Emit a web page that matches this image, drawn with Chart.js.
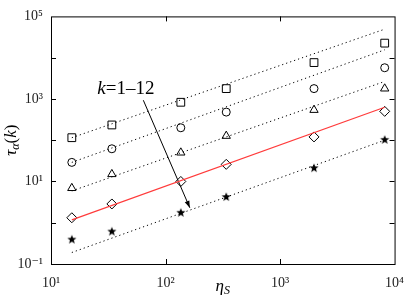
<!DOCTYPE html>
<html>
<head>
<meta charset="utf-8">
<script src="https://cdn.jsdelivr.net/npm/chart.js@4.4.0/dist/chart.umd.min.js"></script>
<style>
  html, body { margin: 0; padding: 0; background: #fff; }
  canvas { display: block; }
</style>
</head>
<body>
<canvas id="graph" width="415" height="303"></canvas>
<script>
// eta_S values (same for every k)
const etaS = [15.2, 34, 136, 339, 1980, 8200];
// tau_alpha(k) for each marker family
const tauSquare = [115, 234, 830, 1780, 7600, 22500];
const tauCircle = [29, 62, 200, 480, 1780, 5700];
const tauTriangle = [6.9, 15, 50, 127, 540, 1780];
const tauDiamond = [1.32, 2.85, 10, 26, 120, 500];
const tauStar = [0.39, 0.61, 1.74, 4.2, 21, 102];
// power law guides, end points
const fitEta = [15.2, 8200];
const fitSquare = [115, 49000];
const fitCircle = [29, 15500];
const fitTriangle = [5.9, 2650];
const fitDiamond = [1.17, 630];
const fitStar = [0.19, 100];
// arrow for k = 1..12
const arrowEta = [64, 163];
const arrowTau = [930, 2.3];
const kLabelAt = [45, 1700];

const xTicks = [10, 100, 1000, 10000];
const yTicks = [0.1, 1, 10, 100, 1000, 10000, 100000];

const serif = "'Liberation Serif', 'DejaVu Serif', serif";
const sup = {'0':'⁰','1':'¹','2':'²','3':'³','4':'⁴','5':'⁵','-':'⁻'};
function powLabel(v) {
  const e = Math.round(Math.log10(v));
  return '10' + String(e).split('').map(c => sup[c]).join('');
}

function makeStar(r) {
  const c = document.createElement('canvas');
  const s = Math.ceil(2 * r + 2);
  c.width = c.height = s;
  const g = c.getContext('2d');
  g.beginPath();
  for (let i = 0; i < 10; i++) {
    const rr = i % 2 ? r * 0.42 : r;
    const a = -Math.PI / 2 + i * Math.PI / 5;
    g.lineTo(s / 2 + rr * Math.cos(a), s / 2 + rr * Math.sin(a));
  }
  g.closePath();
  g.fillStyle = '#000';
  g.fill();
  return c;
}

const pts = (xs, ys) => xs.map((x, i) => ({x: x, y: ys[i]}));

const dotted = (ys) => ({
  type: 'line', data: pts(fitEta, ys), borderColor: '#000', borderWidth: 1,
  borderDash: [1.2, 3], pointRadius: 0, fill: false
});
const markers = (ys, style, r) => ({
  type: 'scatter', data: pts(etaS, ys), pointStyle: style, pointRadius: r,
  borderColor: '#000', backgroundColor: 'rgba(0,0,0,0)', pointBorderWidth: 1
});

const extras = {
  id: 'extras',
  afterDraw(chart) {
    const ctx = chart.ctx;
    const a = chart.chartArea;
    const xs = chart.scales.x, ys = chart.scales.y;
    ctx.save();
    ctx.strokeStyle = '#000';
    ctx.lineWidth = 1;
    ctx.strokeRect(a.left + 0.5, a.top + 0.5, a.right - a.left, a.bottom - a.top);
    ctx.beginPath();
    xTicks.slice(1, -1).forEach(v => {
      const px = Math.round(xs.getPixelForValue(v)) + 0.5;
      ctx.moveTo(px, a.bottom); ctx.lineTo(px, a.bottom - 5);
      ctx.moveTo(px, a.top); ctx.lineTo(px, a.top + 5);
    });
    yTicks.slice(1, -1).forEach(v => {
      const py = Math.round(ys.getPixelForValue(v)) + 0.5;
      ctx.moveTo(a.left, py); ctx.lineTo(a.left + 5, py);
      ctx.moveTo(a.right, py); ctx.lineTo(a.right - 5, py);
    });
    ctx.stroke();

    // arrow head
    const x0 = xs.getPixelForValue(arrowEta[0]), y0 = ys.getPixelForValue(arrowTau[0]);
    const x1 = xs.getPixelForValue(arrowEta[1]), y1 = ys.getPixelForValue(arrowTau[1]);
    const ang = Math.atan2(y1 - y0, x1 - x0);
    ctx.fillStyle = '#000';
    ctx.beginPath();
    ctx.moveTo(x1, y1);
    ctx.lineTo(x1 - 7 * Math.cos(ang) + 2.5 * Math.sin(ang), y1 - 7 * Math.sin(ang) - 2.5 * Math.cos(ang));
    ctx.lineTo(x1 - 7 * Math.cos(ang) - 2.5 * Math.sin(ang), y1 - 7 * Math.sin(ang) + 2.5 * Math.cos(ang));
    ctx.closePath();
    ctx.fill();

    // k label
    const kx = xs.getPixelForValue(kLabelAt[0]), ky = ys.getPixelForValue(kLabelAt[1]);
    ctx.textBaseline = 'middle';
    ctx.textAlign = 'left';
    ctx.font = 'italic 19px ' + serif;
    const wk = ctx.measureText('k').width;
    ctx.font = '19px ' + serif;
    const wr = ctx.measureText('=1–12').width;
    let sx = kx - (wk + wr) / 2;
    ctx.font = 'italic 19px ' + serif;
    ctx.fillText('k', sx, ky);
    ctx.font = '19px ' + serif;
    ctx.fillText('=1–12', sx + wk, ky);

    // x title: eta_S
    ctx.textBaseline = 'alphabetic';
    ctx.font = 'italic 17px ' + serif;
    const we = ctx.measureText('η').width;
    ctx.font = 'italic 12px ' + serif;
    const ws = ctx.measureText('S').width;
    const cx = (a.left + a.right) / 2;
    sx = cx - (we + ws) / 2;
    ctx.font = 'italic 17px ' + serif;
    ctx.fillText('η', sx, 291);
    ctx.font = 'italic 12px ' + serif;
    ctx.fillText('S', sx + we, 294);

    // y title: tau_alpha(k)
    ctx.save();
    ctx.translate(16, (a.top + a.bottom) / 2);
    ctx.rotate(-Math.PI / 2);
    const parts = [
      ['italic 17px ', 'τ', 0], ['italic 12px ', 'α', 3],
      ['17px ', '(', 0], ['italic 17px ', 'k', 0], ['17px ', ')', 0]
    ];
    let tw = 0;
    parts.forEach(p => { ctx.font = p[0] + serif; tw += ctx.measureText(p[1]).width; });
    let px = -tw / 2;
    parts.forEach(p => {
      ctx.font = p[0] + serif;
      ctx.fillText(p[1], px, p[2]);
      px += ctx.measureText(p[1]).width;
    });
    ctx.restore();
    ctx.restore();
  }
};

new Chart(document.getElementById('graph'), {
  data: {
    datasets: [
      dotted(fitSquare), dotted(fitCircle), dotted(fitTriangle), dotted(fitStar),
      {type: 'line', data: pts(fitEta, fitDiamond), borderColor: '#ff3b3b', borderWidth: 1.2, pointRadius: 0, fill: false},
      {type: 'line', data: pts(arrowEta, arrowTau), borderColor: '#000', borderWidth: 1, pointRadius: 0, fill: false},
      markers(tauSquare, 'rect', 5.5),
      markers(tauCircle, 'circle', 4),
      markers(tauTriangle, 'triangle', 4.8),
      markers(tauDiamond, 'rectRot', 5),
      {type: 'scatter', data: pts(etaS, tauStar), pointStyle: makeStar(4.8), pointRadius: 5}
    ]
  },
  options: {
    responsive: false,
    animation: false,
    layout: {padding: {top: 13, right: 15, left: 0, bottom: 0}},
    plugins: {legend: {display: false}, tooltip: {enabled: false}},
    scales: {
      x: {
        type: 'logarithmic', min: 10, max: 10000,
        afterBuildTicks: s => { s.ticks = xTicks.map(v => ({value: v})); },
        afterFit: s => { s.height = 39; },
        grid: {display: false, drawTicks: false}, border: {display: false},
        ticks: {callback: v => powLabel(v), color: '#222', padding: 11, maxRotation: 0,
                font: {family: serif, size: 14}}
      },
      y: {
        type: 'logarithmic', min: 0.1, max: 100000,
        afterBuildTicks: s => { s.ticks = yTicks.map(v => ({value: v})); },
        afterFit: s => { s.width = 51; },
        grid: {display: false, drawTicks: false}, border: {display: false},
        ticks: {callback: v => (Math.round(Math.log10(v)) % 2 !== 0 ? powLabel(v) : ''),
                color: '#222', padding: 8, font: {family: serif, size: 14}}
      }
    }
  },
  plugins: [extras]
});
</script>
</body>
</html>
